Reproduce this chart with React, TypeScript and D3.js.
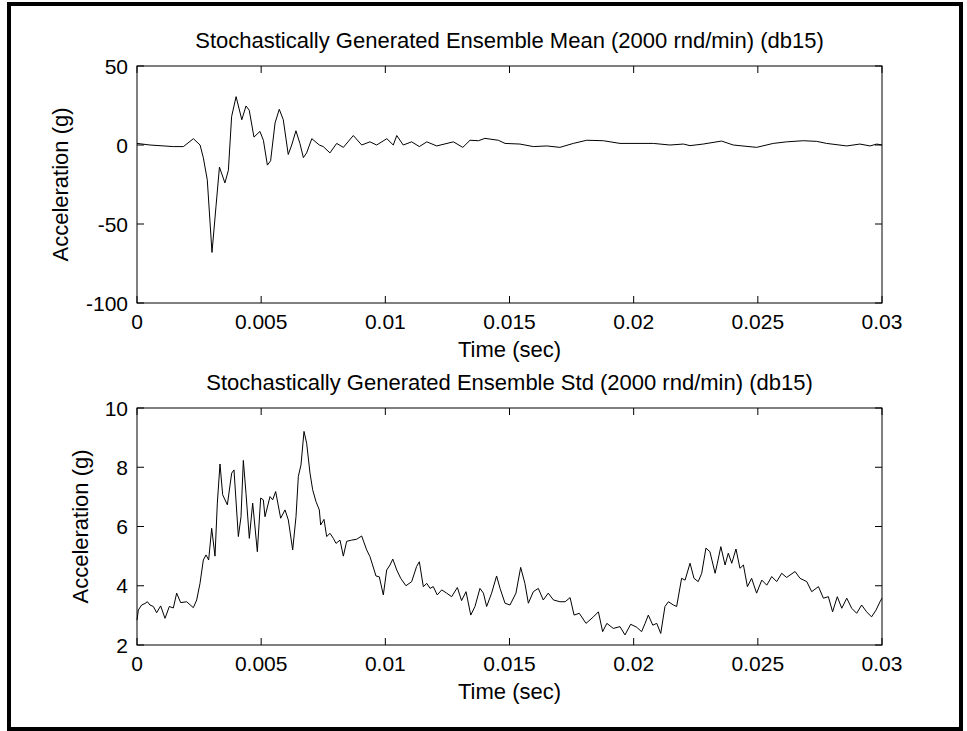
import React from "react";
import * as d3 from "d3";

// ---- Data (time in milliseconds, acceleration in g) ----
const meanTimeMs = [
  0, 0.523, 1.46, 1.87, 2.27, 2.54, 2.67, 2.83, 3.02, 3.18,
  3.32, 3.54, 3.68, 3.81, 3.99, 4.22, 4.39, 4.52, 4.71, 4.95,
  5.09, 5.25, 5.38, 5.56, 5.73, 5.89, 6.09, 6.23, 6.40, 6.56,
  6.70, 6.83, 7.04, 7.34, 7.50, 7.77, 8.04, 8.31, 8.71, 9.05,
  9.38, 9.65, 10.06, 10.32, 10.46, 10.72, 11.06, 11.37, 11.67, 12.07,
  12.74, 13.12, 13.41, 13.75, 14.01, 14.55, 14.82, 15.42, 15.96, 16.50,
  17.03, 17.57, 18.11, 18.78, 19.45, 20.79, 21.46, 22.00, 22.27, 22.80,
  23.54, 24.01, 24.95, 25.62, 26.16, 26.83, 27.37, 27.77, 28.58, 29.11,
  29.52, 29.79, 30.0,
];
const meanValues = [
  1, 0, -1, -1, 4, 0, -8, -22, -68, -39,
  -14, -24, -16, 18, 30.6, 16, 24.7, 22, 5, 8.6,
  3, -12.7, -10, 14, 22.6, 16, -6, 0, 9, 1,
  -8, -5, 4, 0, -1, -5, 1, -1.5, 6, 0,
  2, 0, 4, 0, 6, 0, 2, -1, 2, -0.6,
  2, -1.5, 3, 2.7, 4.2, 3, 1, 0.6, -1, -0.6,
  -1.5, 1, 3, 2.7, 1, 1, 0, 0.6, -0.4, 0.6,
  2.5, 0, -1.5, 1, 2, 2.7, 2.3, 1, -0.6, 0.6,
  -0.6, 0.6, 0,
];

const stdTimeMs = [
  0, 0.054, 0.188, 0.322, 0.416, 0.523, 0.658, 0.792, 0.953, 1.128,
  1.302, 1.463, 1.597, 1.759, 2.0, 2.268, 2.403, 2.537, 2.671, 2.779,
  2.886, 3.007, 3.141, 3.235, 3.342, 3.45, 3.638, 3.812, 3.906, 4.081,
  4.188, 4.282, 4.389, 4.523, 4.658, 4.846, 4.98, 5.087, 5.154, 5.356,
  5.463, 5.584, 5.785, 5.96, 6.094, 6.269, 6.403, 6.497, 6.604, 6.725,
  6.832, 6.967, 7.074, 7.208, 7.342, 7.396, 7.53, 7.638, 7.772, 7.906,
  8.014, 8.175, 8.309, 8.443, 8.644, 8.846, 9.047, 9.248, 9.383, 9.624,
  9.758, 9.919, 10.054, 10.188,
  10.30, 10.46, 10.62, 10.83, 11.06, 11.26, 11.37, 11.53, 11.67, 11.80,
  11.93, 12.09, 12.27, 12.47, 12.67, 12.90, 13.07, 13.25, 13.44, 13.61,
  13.81, 13.95, 14.08, 14.28, 14.48, 14.62, 14.82, 15.02, 15.26, 15.45,
  15.62, 15.76, 15.96, 16.16, 16.36, 16.56, 16.77, 17.03, 17.24, 17.44,
  17.60, 17.81, 18.08, 18.38, 18.58, 18.75, 18.92, 19.18, 19.45, 19.65,
  19.88, 20.12,
  20.32, 20.46, 20.59, 20.77, 20.93, 21.09, 21.26, 21.40, 21.60, 21.73,
  21.93, 22.07, 22.27, 22.43, 22.60, 22.74, 22.91, 23.07, 23.28, 23.37,
  23.51, 23.68, 23.81, 23.95, 24.12, 24.28, 24.42, 24.58, 24.75, 24.95,
  25.16, 25.36, 25.56, 25.76, 25.96, 26.16, 26.50, 26.70, 26.97, 27.17,
  27.44, 27.64, 27.84, 28.01, 28.20, 28.38, 28.58, 28.78, 28.98, 29.18,
  29.38, 29.58, 29.76, 29.92, 30.0,
];
const stdValues = [
  2.84, 3.18, 3.35, 3.4, 3.46, 3.35, 3.3, 3.09, 3.32, 2.9,
  3.3, 3.25, 3.75, 3.43, 3.46, 3.26, 3.52, 4.08, 4.87, 5.04,
  4.87, 5.94, 5.0, 6.79, 8.11, 7.07, 6.73, 7.8, 7.91, 5.66,
  6.33, 8.23, 7.12, 5.6, 6.79, 5.15, 6.96, 6.9, 6.33, 7.01,
  6.9, 7.18, 6.28, 6.56, 6.22, 5.21, 6.33, 7.69, 8.08, 9.21,
  8.81, 7.8, 7.24, 6.84, 6.56, 6.05, 6.24, 5.66, 5.77, 5.6,
  5.43, 5.54, 5.0, 5.5, 5.54, 5.57, 5.68, 5.21, 4.98, 4.33,
  4.3, 3.69, 4.53, 4.7,
  4.9, 4.53, 4.25, 4.0, 4.14, 4.65, 4.81, 3.97, 4.08, 3.91,
  3.97, 3.69, 3.86, 3.75, 3.63, 3.94, 3.5, 3.8, 3.01, 3.3,
  3.91, 3.75, 3.3, 3.75, 4.33, 3.91, 3.41, 3.35, 3.75, 4.62,
  4.08, 3.41, 3.8, 3.91, 3.52, 3.75, 3.52, 3.46, 3.46, 3.6,
  3.01, 3.07, 2.73, 2.95, 3.12, 2.45, 2.73, 2.56, 2.62, 2.34,
  2.7, 2.6,
  2.45, 2.73, 3.01, 2.67, 2.73, 2.39, 3.3, 3.46, 3.35, 3.3,
  4.25, 4.19, 4.76, 4.25, 4.14, 4.42, 5.27, 5.15, 4.42, 4.76,
  5.32, 4.7, 5.1, 4.76, 5.24, 4.59, 4.7, 3.97, 4.25, 3.75,
  4.19, 4.02, 4.31, 4.14, 4.42, 4.28, 4.48, 4.25, 4.14, 3.8,
  3.97, 3.58, 3.63, 3.12, 3.63, 3.24, 3.58, 3.24, 3.07, 3.35,
  3.12, 2.95, 3.18, 3.46, 3.58,
];

const xTicksMs = [0, 5, 10, 15, 20, 25, 30];
const xTickLabels = ["0", "0.005", "0.01", "0.015", "0.02", "0.025", "0.03"];
const meanYTicks = [-100, -50, 0, 50];
const stdYTicks = [2, 4, 6, 8, 10];

const titleMean = "Stochastically Generated Ensemble Mean (2000 rnd/min) (db15)";
const titleStd = "Stochastically Generated Ensemble Std (2000 rnd/min) (db15)";
const xLabel = "Time (sec)";
const yLabel = "Acceleration (g)";

const FONT = "'Liberation Sans', Arial, Helvetica, sans-serif";
const FS_TEXT = 22;
const FS_TICK = 21;
const LEFT = 137;
const RIGHT = 882;
const TICK = 7;

type PanelProps = {
  top: number;
  bottom: number;
  times: number[];
  values: number[];
  yDomain: [number, number];
  yTicks: number[];
  title: string;
  yLabelX: number;
};

function Panel({ top, bottom, times, values, yDomain, yTicks, title, yLabelX }: PanelProps) {
  const x = d3.scaleLinear().domain([0, 30]).range([LEFT, RIGHT]);
  const y = d3.scaleLinear().domain(yDomain).range([bottom, top]);
  const pts: [number, number][] = times.map((t, i) => [t, values[i]]);
  const line = d3
    .line<[number, number]>()
    .x((d) => x(d[0]))
    .y((d) => y(d[1]));
  const cx = (LEFT + RIGHT) / 2;
  const cy = (top + bottom) / 2;
  return (
    <g>
      <path d={line(pts) || ""} fill="none" stroke="#000" strokeWidth={1} />
      <rect x={LEFT} y={top} width={RIGHT - LEFT} height={bottom - top} fill="none" stroke="#000" strokeWidth={1} />
      {xTicksMs.map((t, i) => (
        <g key={"xt" + i}>
          <line x1={x(t)} x2={x(t)} y1={bottom} y2={bottom - TICK} stroke="#000" />
          <line x1={x(t)} x2={x(t)} y1={top} y2={top + TICK} stroke="#000" />
          <text x={x(t)} y={bottom + 26} textAnchor="middle" fontFamily={FONT} fontSize={FS_TICK}>
            {xTickLabels[i]}
          </text>
        </g>
      ))}
      {yTicks.map((v, i) => (
        <g key={"yt" + i}>
          <line x1={LEFT} x2={LEFT + TICK} y1={y(v)} y2={y(v)} stroke="#000" />
          <line x1={RIGHT} x2={RIGHT - TICK} y1={y(v)} y2={y(v)} stroke="#000" />
          <text x={128} y={y(v)} dy="0.36em" textAnchor="end" fontFamily={FONT} fontSize={FS_TICK}>
            {v}
          </text>
        </g>
      ))}
      <text x={cx} y={top - 18} textAnchor="middle" fontFamily={FONT} fontSize={FS_TEXT}>
        {title}
      </text>
      <text x={cx} y={bottom + 54} textAnchor="middle" fontFamily={FONT} fontSize={FS_TEXT}>
        {xLabel}
      </text>
      <text
        transform={`translate(${yLabelX},${cy}) rotate(-90)`}
        dy="0.35em"
        textAnchor="middle"
        fontFamily={FONT}
        fontSize={FS_TEXT}
      >
        {yLabel}
      </text>
    </g>
  );
}

export default function App() {
  return (
    <svg
      width={967}
      height={731}
      style={{ position: "absolute", left: 0, top: 0, background: "#fff" }}
    >
      <rect x={0} y={0} width={967} height={731} fill="#fff" />
      <rect x={9} y={4} width={952} height={725} fill="none" stroke="#000" strokeWidth={4} />
      <Panel
        top={66}
        bottom={303}
        times={meanTimeMs}
        values={meanValues}
        yDomain={[-100, 50]}
        yTicks={meanYTicks}
        title={titleMean}
        yLabelX={60}
      />
      <Panel
        top={408}
        bottom={645}
        times={stdTimeMs}
        values={stdValues}
        yDomain={[2, 10]}
        yTicks={stdYTicks}
        title={titleStd}
        yLabelX={80}
      />
    </svg>
  );
}
